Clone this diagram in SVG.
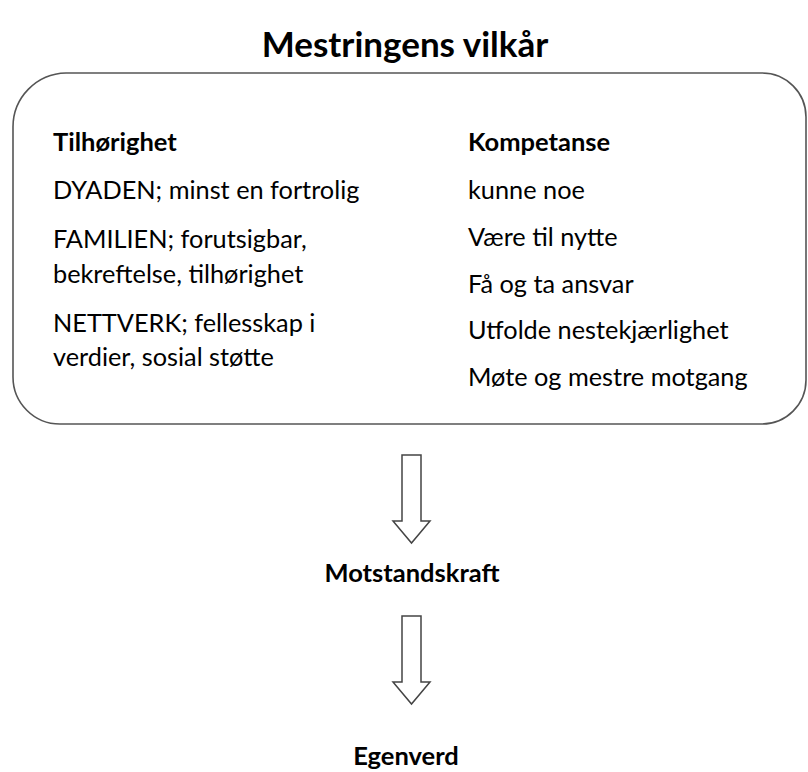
<svg xmlns="http://www.w3.org/2000/svg" width="808" height="772" viewBox="0 0 808 772">
<style>
text{font-family:Lato,"Open Sans","Liberation Sans",sans-serif;fill:#000}
.t{font-size:35px;font-weight:bold}
.h{font-size:25.5px;font-weight:bold}
.b{font-size:25.3px}
.box{fill:#fff;stroke:#555;stroke-width:1.6}
.arr{fill:#fff;stroke:#444;stroke-width:1.5;stroke-linejoin:miter}
</style>
<rect width="808" height="772" fill="#fff"/>
<g id="title"><text class="t" x="405" y="57" text-anchor="middle">Mestringens vilkår</text></g>
<g id="vilkar">
<path class="box" d="M66,73 H762 A44,44 0 0 1 806,117 V380 A44,44 0 0 1 762,424 H60 A47,47 0 0 1 13,377 V127 A54,54 0 0 1 66,73 Z"/>
<text class="h" x="53" y="151">Tilhørighet</text>
<text class="b" x="53" y="199">DYADEN; minst en fortrolig</text>
<text class="b" x="53" y="248">FAMILIEN; forutsigbar,</text>
<text class="b" x="53" y="283">bekreftelse, tilhørighet</text>
<text class="b" x="53" y="332">NETTVERK; fellesskap i</text>
<text class="b" x="53" y="366">verdier, sosial støtte</text>
<text class="h" x="468" y="151">Kompetanse</text>
<text class="b" x="468" y="199">kunne noe</text>
<text class="b" x="468" y="246">Være til nytte</text>
<text class="b" x="468" y="293">Få og ta ansvar</text>
<text class="b" x="468" y="339">Utfolde nestekjærlighet</text>
<text class="b" x="468" y="386">Møte og mestre motgang</text>
</g>
<g id="motstandskraft"><text class="h" x="412" y="582" text-anchor="middle">Motstandskraft</text></g>
<g id="egenverd"><text class="h" x="406" y="765" text-anchor="middle">Egenverd</text></g>
<g id="connectors">
<path class="arr" d="M402,455 H421 V521 H430 L411.5,543 L393,521 H402 Z"/>
<path class="arr" d="M402,616 H421 V682 H430 L411.5,704 L393,682 H402 Z"/>
</g>
</svg>
